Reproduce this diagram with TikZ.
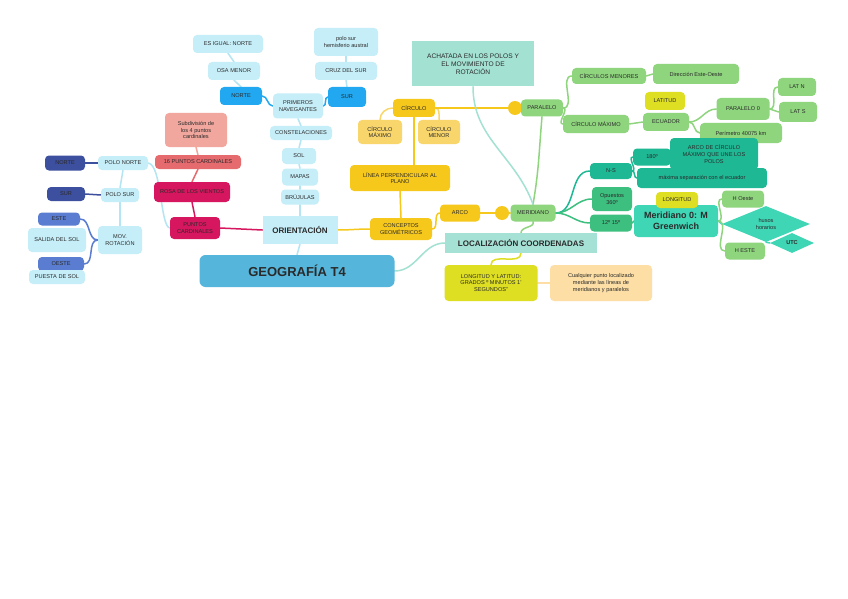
\documentclass[tikz,border=0pt]{standalone}
\usepackage{fontspec}
\setmainfont{Liberation Sans}
\usetikzlibrary{shapes.geometric,backgrounds}
\definecolor{lb}{HTML}{C6EEF8}
\definecolor{lbl}{HTML}{B3E5F2}
\definecolor{navy}{HTML}{3D4F9F}
\definecolor{mb}{HTML}{5A7DD1}
\definecolor{bb}{HTML}{22A8F0}
\definecolor{salmon}{HTML}{F2A79E}
\definecolor{coral}{HTML}{E56B6F}
\definecolor{crim}{HTML}{D6165F}
\definecolor{yel}{HTML}{F7C81C}
\definecolor{ly}{HTML}{F9D66B}
\definecolor{tealbox}{HTML}{A3E1D2}
\definecolor{gr}{HTML}{8FD57E}
\definecolor{lime}{HTML}{DEDE22}
\definecolor{peach}{HTML}{FDDFA6}
\definecolor{td}{HTML}{1FB894}
\definecolor{mg}{HTML}{3DBF7F}
\definecolor{mt}{HTML}{3FD6B6}
\definecolor{geo}{HTML}{55B5DA}
\definecolor{loc}{HTML}{A6E1D5}
\definecolor{txt}{HTML}{2A2A2A}
\begin{document}
\begin{tikzpicture}[x=1pt,y=-1pt,
  nd/.style={rounded corners=4pt, inner sep=1pt, align=center, text=txt,
    font=\fontsize{5.6}{6.6}\selectfont},
  wh/.style 2 args={minimum width=#1pt, minimum height=#2pt},
  cn/.style={line width=1.5pt, line cap=round},
  dotn/.style={circle, fill=yel, minimum size=14pt, inner sep=0pt}]

% ---------- left column ----------
\node[nd,fill=navy,wh={40}{15}] (norteL) at (65,163) {NORTE};
\node[nd,fill=lb,wh={50}{14}] (pnorte) at (123,163) {POLO NORTE};
\node[nd,fill=navy,wh={38}{14}] (surL) at (66,194) {SUR};
\node[nd,fill=lb,wh={38}{14}] (psur) at (120,195) {POLO SUR};
\node[nd,fill=lb,wh={58}{24}] (salida) at (57,240) {SALIDA DEL SOL};
\node[nd,fill=mb,wh={42}{13}] (este) at (59,219) {ESTE};
\node[nd,fill=lb,wh={44}{28}] (mov) at (120,240) {MOV.\\ROTACIÓN};
\node[nd,fill=mb,wh={46}{14}] (oeste) at (61,264) {OESTE};
\node[nd,fill=lb,wh={56}{14}] (puesta) at (57,277) {PUESTA DE SOL};

% ---------- pink column ----------
\node[nd,fill=salmon,wh={62}{34}] (subd) at (196,130) {Subdivisión de\\los 4 puntos\\cardinales};
\node[nd,fill=coral,wh={86}{14}] (p16) at (198,162) {16 PUNTOS CARDINALES};
\node[nd,fill=crim,wh={76}{20}] (rosa) at (192,192) {ROSA DE LOS VIENTOS};
\node[nd,fill=crim,wh={50}{22}] (pcard) at (195,228) {PUNTOS\\CARDINALES};

% ---------- top ----------
\node[nd,fill=lb,wh={70}{18}] (igual) at (228,44) {ES IGUAL: NORTE};
\node[nd,fill=lb,wh={52}{18}] (osa) at (234,71) {OSA MENOR};
\node[nd,fill=bb,wh={42}{18}] (norteT) at (241,96) {NORTE};
\node[nd,fill=lb,wh={50}{25}] (nav) at (298,106) {PRIMEROS\\NAVEGANTES};
\node[nd,fill=bb,wh={38}{20}] (surT) at (347,97) {SUR};
\node[nd,fill=lb,wh={62}{18}] (cruz) at (346,71) {CRUZ DEL SUR};
\node[nd,fill=lb,wh={64}{28}] (polosur) at (346,42) {polo sur\\hemisferio austral};

% ---------- center column ----------
\node[nd,fill=lb,wh={62}{14}] (const) at (301,133) {CONSTELACIONES};
\node[nd,fill=lb,wh={34}{16}] (sol) at (299,156) {SOL};
\node[nd,fill=lb,wh={36}{17}] (mapas) at (300,177) {MAPAS};
\node[nd,fill=lb,wh={38}{15}] (bruj) at (300,197) {BRÚJULAS};
\node[fill=lb,wh={75}{28},inner sep=1pt,text=txt,font=\fontsize{8}{9}\bfseries] (ori) at (300,230) {ORIENTACIÓN};
\node[fill=geo,rounded corners=6pt,wh={195}{32},text=txt,font=\fontsize{13}{15}\bfseries] (geo) at (297,271) {GEOGRAFÍA T4};

% ---------- yellow branch ----------
\node[fill=tealbox,wh={122}{45},align=center,text=txt,inner sep=1pt,font=\fontsize{6.6}{8}\selectfont] (acha) at (473,64) {ACHATADA EN LOS POLOS Y\\EL MOVIMIENTO DE\\ROTACIÓN};
\node[nd,fill=yel,wh={42}{18}] (circ) at (414,108) {CÍRCULO};
\node[nd,fill=ly,wh={44}{24}] (cmax) at (380,132) {CÍRCULO\\MÁXIMO};
\node[nd,fill=ly,wh={42}{24}] (cmen) at (439,132) {CÍRCULO\\MENOR};
\node[dotn] (dot1) at (515,108) {};
\node[nd,fill=gr,wh={42}{17}] (para) at (542,108) {PARALELO};
\node[nd,fill=yel,wh={100}{26}] (perp) at (400,178) {LÍNEA PERPENDICULAR AL\\PLANO};
\node[nd,fill=yel,wh={62}{22}] (conc) at (401,229) {CONCEPTOS\\GEOMÉTRICOS};
\node[nd,fill=yel,wh={40}{17}] (arco) at (460,213) {ARCO};
\node[dotn] (dot2) at (502,213) {};
\node[nd,fill=gr,wh={45}{17}] (meri) at (533,213) {MERIDIANO};
\node[fill=loc,wh={152}{20},inner sep=1pt,text=txt,font=\fontsize{8}{9}\bfseries] (loc) at (521,243) {LOCALIZACIÓN COORDENADAS};
\node[nd,fill=lime,wh={93}{36}] (lonlat) at (491,283) {LONGITUD Y LATITUD:\\GRADOS º MINUTOS 1'\\SEGUNDOS''};
\node[nd,fill=peach,wh={102}{36}] (cual) at (601,283) {Cualquier punto localizado\\mediante las líneas de\\meridianos y paralelos};

% ---------- green branch ----------
\node[nd,fill=gr,wh={74}{16}] (cmenores) at (609,76) {CÍRCULOS MENORES};
\node[nd,fill=gr,wh={66}{18}] (cmaxg) at (596,124) {CÍRCULO MÁXIMO};
\node[nd,fill=gr,wh={86}{20}] (dir) at (696,74) {Dirección Este-Oeste};
\node[nd,fill=gr,wh={46}{18}] (ecu) at (666,122) {ECUADOR};
\node[nd,fill=lime,wh={40}{18}] (lat) at (665,101) {LATITUD};
\node[nd,fill=gr,wh={53}{22}] (p0) at (743,109) {PARALELO 0};
\node[nd,fill=gr,wh={38}{18}] (latn) at (797,87) {LAT N};
\node[nd,fill=gr,wh={38}{20}] (lats) at (798,112) {LAT S};
\node[nd,fill=gr,wh={82}{20}] (peri) at (741,133) {Perímetro 40075 km};

% ---------- teal branch ----------
\node[nd,fill=td,wh={42}{16}] (ns) at (611,171) {N-S};
\node[nd,fill=td,wh={38}{17}] (g180) at (652,157) {180º};
\node[nd,fill=td,wh={88}{32}] (arcoc) at (714,154) {ARCO DE CÍRCULO\\MÁXIMO QUE UNE LOS\\POLOS};
\node[nd,fill=td,wh={130}{20}] (maxsep) at (702,178) {máxima separación con el ecuador};
\node[nd,fill=mg,wh={40}{24}] (opu) at (612,199) {Opuestos\\360º};
\node[nd,fill=mg,wh={42}{17}] (g12) at (611,223) {12º 15º};
\node[fill=mt,rounded corners=4pt,wh={84}{32},inner sep=1pt,align=center,text=txt,font=\fontsize{9}{10.5}\bfseries] (m0) at (676,221) {Meridiano 0: M\\Greenwich};
\node[nd,fill=lime,wh={42}{16}] (lon) at (677,200) {LONGITUD};
\node[nd,fill=gr,wh={42}{17}] (hoe) at (743,199) {H Oeste};
\node[diamond,fill=mt,minimum width=88pt,minimum height=36pt,inner sep=0pt,align=center,text=txt,font=\fontsize{5.6}{6.6}\selectfont] (husos) at (766,224) {husos\\horarios};
\node[diamond,fill=mt,minimum width=44pt,minimum height=20pt,inner sep=0pt,text=txt,font=\fontsize{5.6}{6.6}\bfseries] (uhc) at (792,243) {UTC};
\node[nd,fill=gr,wh={40}{17}] (hes) at (745,251) {H ESTE};

\begin{pgfonlayer}{background}
\fill[white] (0,0) rectangle (848,599);
% orientation
\draw[cn,lbl] (geo.north) -- (ori.south);
\draw[cn,lbl] (ori.north) -- (bruj.south);
\draw[cn,lbl] (bruj.north) -- (mapas.south);
\draw[cn,lbl] (mapas.north) -- (sol.south);
\draw[cn,lbl] (sol.north) -- (const.south);
\draw[cn,lbl] (const.north) -- (nav.south);
\draw[cn,bb] (nav.west) to[out=180,in=0] (norteT.east);
\draw[cn,bb] (nav.east) to[out=0,in=180] (surT.west);
\draw[cn,lbl] (norteT.north) -- (osa.south);
\draw[cn,lbl] (osa.north) -- (igual.south);
\draw[cn,lbl] (surT.north) -- (cruz.south);
\draw[cn,lbl] (cruz.north) -- (polosur.south);
% cardinal points
\draw[cn,crim] (ori.west) -- (pcard.east);
\draw[cn,crim] (pcard.north) -- (rosa.south);
\draw[cn,coral] (rosa.north) -- (p16.south);
\draw[cn,salmon] (p16.north) -- (subd.south);
\draw[cn,lbl] (pcard.west) .. controls (160,226) and (162,165) .. (pnorte.east);
\draw[cn,lbl] (pnorte.south) -- (psur.north);
\draw[cn,lbl] (psur.south) -- (mov.north);
\draw[cn,navy] (pnorte.west) -- (norteL.east);
\draw[cn,navy] (psur.west) -- (surL.east);
\draw[cn,mb] (mov.west) to[out=180,in=0] (este.east);
\draw[cn,mb] (mov.west) to[out=180,in=0] (oeste.east);
% geometry
\draw[cn,yel] (ori.east) to[out=0,in=180] (conc.west);
\draw[cn,yel] (conc.north) -- (perp.south);
\draw[cn,yel] (perp.north -| circ.south) -- (circ.south);
\draw[cn,ly] (circ.west) to[out=180,in=90] (cmax.north);
\draw[cn,ly] (circ.east) to[out=0,in=90] (cmen.north);
\draw[cn,yel] (circ.east) -- (dot1.west);
\draw[cn,yel] (dot1.east) -- (para.west);
\draw[cn,yel] (conc.east) to[out=0,in=180] (arco.west);
\draw[cn,yel] (arco.east) -- (dot2.west);
\draw[cn,yel] (dot2.east) -- (meri.west);
% parallels
\draw[cn,gr] (para.east) to[out=0,in=180] (cmenores.west);
\draw[cn,gr] (para.east) to[out=0,in=180] (cmaxg.west);
\draw[cn,gr] (cmenores.east) -- (dir.west);
\draw[cn,gr] (cmaxg.east) -- (ecu.west);
\draw[cn,gr] (ecu.east) to[out=0,in=180] (p0.west);
\draw[cn,gr] (ecu.east) to[out=0,in=180] (peri.west);
\draw[cn,gr] (p0.east) to[out=0,in=180] (latn.west);
\draw[cn,gr] (p0.east) to[out=0,in=180] (lats.west);
\draw[cn,gr] (para.south) to[out=-95,in=80] (meri.north);
\draw[cn,tealbox] (acha.south) to[out=-90,in=110] (meri.north);
% location
\draw[cn,tealbox] (geo.east) to[out=0,in=180] (loc.west);
\draw[cn,gr] (loc.north) to[out=90,in=-70] (meri.south);
\draw[cn,lime] (loc.south) to[out=-90,in=90] (lonlat.north);
\draw[cn,peach] (lonlat.east) -- (cual.west);
% meridians
\draw[cn,td] (meri.east) to[out=0,in=180] (ns.west);
\draw[cn,mg] (meri.east) to[out=0,in=180] (opu.west);
\draw[cn,mg] (meri.east) to[out=0,in=180] (g12.west);
\draw[cn,td] (ns.east) to[out=0,in=180] (g180.west);
\draw[cn,td] (ns.east) to[out=0,in=180] (maxsep.west);
\draw[cn,td] (g180.east) -- (arcoc.west);
\draw[cn,mg] (g12.east) -- (m0.west);
\draw[cn,gr] (m0.east) to[out=0,in=180] (hoe.west);
\draw[cn,mt] (m0.east) -- (husos.west);
\draw[cn,gr] (m0.east) to[out=0,in=180] (hes.west);
\draw[cn,mt] (husos.south) -- (uhc.west);
\end{pgfonlayer}
\end{tikzpicture}
\end{document}
